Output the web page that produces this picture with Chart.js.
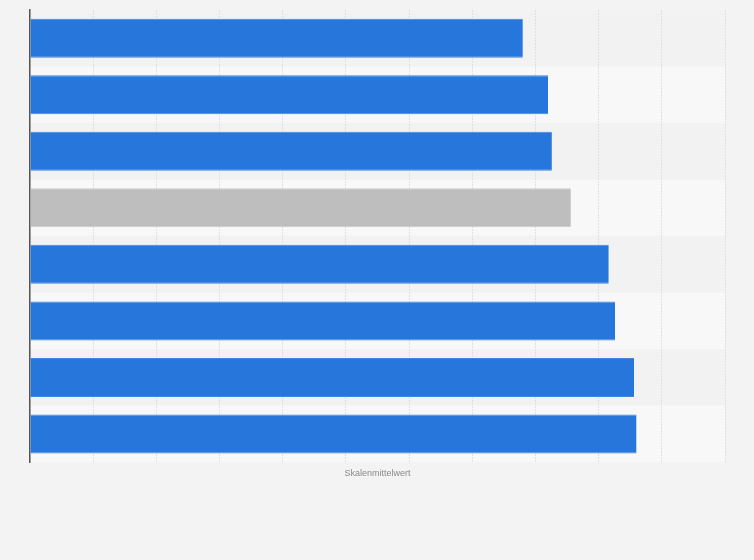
<!DOCTYPE html>
<html>
<head>
<meta charset="utf-8">
<script src="https://cdn.jsdelivr.net/npm/chart.js@4.4.1/dist/chart.umd.min.js"></script>
<style>
  html, body { margin: 0; padding: 0; background: #f3f3f3; }
  #wrap { width: 754px; height: 560px; }
</style>
</head>
<body>
<div id="wrap"><canvas id="chart" width="754" height="560"></canvas></div>
<script>
// categories are not labelled in the picture
const categories = ['1', '2', '3', '4', '5', '6', '7', '8'];
const values = [3.9, 4.1, 4.13, 4.28, 4.58, 4.63, 4.78, 4.8];
const highlight = [false, false, false, true, false, false, false, false];
const axisTitle = 'Skalenmittelwert';

// alternating row bands behind the bars
const bandPlugin = {
  id: 'bands',
  beforeDraw(chart) {
    const {ctx, chartArea, scales} = chart;
    const y = scales.y;
    ctx.save();
    categories.forEach((c, i) => {
      const top = i === 0 ? chartArea.top : (y.getPixelForValue(i - 1) + y.getPixelForValue(i)) / 2;
      const bottom = i === categories.length - 1 ? chartArea.bottom : (y.getPixelForValue(i) + y.getPixelForValue(i + 1)) / 2;
      ctx.fillStyle = i % 2 === 0 ? '#f2f2f2' : '#f8f8f8';
      ctx.fillRect(chartArea.left, top, chartArea.right - chartArea.left, bottom - top);
    });
    ctx.restore();
  }
};

new Chart(document.getElementById('chart').getContext('2d'), {
  type: 'bar',
  data: {
    labels: categories,
    datasets: [{
      data: values,
      backgroundColor: highlight.map(h => h ? '#bebebe' : '#2776db'),
      borderColor: highlight.map(h => h ? '#c8c8c8' : '#3f86e0'),
      borderWidth: {top: 1, bottom: 1, left: 0, right: 0},
      barPercentage: 0.69,
      categoryPercentage: 1
    }]
  },
  options: {
    indexAxis: 'y',
    responsive: false,
    animation: false,
    layout: {padding: {left: 30, right: 29, top: 10, bottom: 81}},
    plugins: {legend: {display: false}, tooltip: {enabled: false}},
    scales: {
      x: {
        min: 0, max: 5.5,
        ticks: {display: false, stepSize: 0.5},
        grid: {color: '#e0e0e0', lineWidth: 1, drawTicks: false},
        border: {display: false, dash: [2, 1]},
        title: {display: true, text: axisTitle, color: '#8a8a8a',
                font: {family: 'Arial, "Liberation Sans", sans-serif', size: 9}, padding: {top: 6, bottom: 0}}
      },
      y: {
        ticks: {display: false},
        grid: {display: false, drawTicks: false},
        border: {display: true, color: '#555', width: 1.5}
      }
    }
  },
  plugins: [bandPlugin]
});
</script>
</body>
</html>
